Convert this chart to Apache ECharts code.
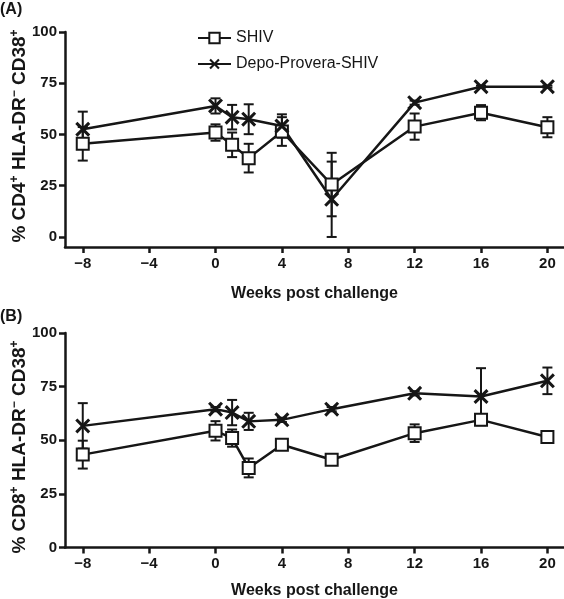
<!DOCTYPE html>
<html><head><meta charset="utf-8">
<script src="https://cdn.jsdelivr.net/npm/echarts@6/dist/echarts.min.js"></script>
<style>html,body{margin:0;padding:0;background:#fff}#c{width:564px;height:599px}</style>
</head><body><div id="c"></div>
<script>
const weeks = [-8, 0, 1, 2, 4, 7, 12, 16, 20];
const xTicks = [-8, -4, 0, 4, 8, 12, 16, 20];
const yTicks = [0, 25, 50, 75, 100];
const seriesNames = ['SHIV', 'Depo-Provera-SHIV'];
const yNameA = '% CD4{sup|+} HLA-DR{sup|\u2212} CD38{sup|+}';
const yNameB = '% CD8{sup|+} HLA-DR{sup|\u2212} CD38{sup|+}';
// Panel A (CD4)
const aShiv   = [45.4, 50.9, 44.9, 38.4, 51.4, 25.5, 53.8, 60.6, 53.5];
const aShivSE = [8.2, 4.0, 6.0, 7.0, 7.0, 15.5, 6.4, 3.7, 4.9];
const aDepo   = [52.5, 63.9, 58.4, 57.4, 54.1, 18.3, 65.5, 73.3, 73.3];
const aDepoSE = [8.6, 3.7, 6.0, 7.3, 5.7, 18.4, 1.0, 0.5, 0.5];
// Panel B (CD8)
const bShiv   = [43.3, 54.4, 51.0, 37.1, 47.9, 40.9, 53.3, 59.5, 51.5];
const bShivSE = [6.5, 4.5, 4.0, 4.4, 2.0, 1.5, 4.1, 2.5, 2.0];
const bDepo   = [56.7, 64.5, 62.9, 58.8, 59.5, 64.5, 71.9, 70.4, 77.7];
const bDepoSE = [10.6, 1.0, 5.9, 4.0, 1.0, 1.0, 1.0, 13.2, 6.2];

const INK = '#161616';
const FONT = '"Liberation Sans", Arial, Helvetica, sans-serif';
const crossPath = 'path://M0,2 L2,0 L7,5 L12,0 L14,2 L9,7 L14,12 L12,14 L7,9 L2,14 L0,12 L5,7 Z';

function pts(vals) { return weeks.map((w, i) => [w, vals[i]]); }
function errData(vals, se) { return weeks.map((w, i) => [w, vals[i], se[i]]); }

function errRender(params, api) {
  const x = api.value(0), v = api.value(1), s = api.value(2);
  const top = api.coord([x, v + s]);
  const bot = api.coord([x, v - s]);
  const cw = 5;
  const st = { stroke: INK, lineWidth: 2 };
  return { type: 'group', children: [
    { type: 'line', shape: { x1: top[0], y1: top[1], x2: bot[0], y2: bot[1] }, style: st },
    { type: 'line', shape: { x1: top[0] - cw, y1: top[1], x2: top[0] + cw, y2: top[1] }, style: st },
    { type: 'line', shape: { x1: bot[0] - cw, y1: bot[1], x2: bot[0] + cw, y2: bot[1] }, style: st }
  ]};
}

function xAxis(idx) {
  return {
    type: 'value', gridIndex: idx, min: -9.07, max: 21,
    name: 'Weeks post challenge', nameLocation: 'middle', nameGap: idx === 0 ? 39 : 35,
    nameMoveOverlap: false,
    nameTextStyle: { fontFamily: FONT, fontWeight: 'bold', fontSize: 16, color: INK },
    axisLine: { show: true, onZero: false, lineStyle: { color: INK, width: 2.5 } },
    axisTick: { show: true, length: 6, inside: false, lineStyle: { color: INK, width: 2.5 }, customValues: xTicks },
    axisLabel: { fontFamily: FONT, fontWeight: 'bold', fontSize: 15, color: INK, margin: 9,
      customValues: xTicks, formatter: v => String(v).replace('-', '\u2212') },
    splitLine: { show: false }
  };
}
function yAxis(idx, minV) {
  return {
    type: 'value', gridIndex: idx, min: minV, max: 100,
    axisLine: { show: true, onZero: false, lineStyle: { color: INK, width: 2.5 } },
    axisTick: { show: true, length: 6, lineStyle: { color: INK, width: 2.5 }, customValues: yTicks },
    axisLabel: { fontFamily: FONT, fontWeight: 'bold', fontSize: 15, color: INK, margin: 8, customValues: yTicks },
    splitLine: { show: false }
  };
}
function yName(text, cy) {
  return {
    type: 'text', x: 20, y: cy, rotation: Math.PI / 2,
    style: {
      text: text, fontFamily: FONT, fontWeight: 'bold', fontSize: 19, fill: INK,
      align: 'center', verticalAlign: 'middle', lineHeight: 22,
      rich: { sup: { fontFamily: FONT, fontWeight: 'bold', fontSize: 12, fill: INK, verticalAlign: 'top', lineHeight: 22 } }
    }
  };
}
function lineSeries(name, data, idx, isSquare) {
  return {
    name: name, type: 'line', xAxisIndex: idx, yAxisIndex: idx, data: data, z: 5,
    symbol: isSquare ? 'rect' : crossPath, symbolSize: isSquare ? 12 : 15,
    color: INK,
    lineStyle: { color: INK, width: 2.5 },
    itemStyle: isSquare ? { color: '#fff', borderColor: INK, borderWidth: 2 } : { color: INK, borderWidth: 0 },
    animation: false
  };
}
function errSeries(name, data, idx) {
  return { name: name + ' error', type: 'custom', xAxisIndex: idx, yAxisIndex: idx, data: data, renderItem: errRender, z: 3, animation: false, silent: true };
}

const chart = echarts.init(document.getElementById('c'), null, { renderer: 'canvas' });
chart.setOption({
  backgroundColor: '#fff',
  animation: false,
  grid: [
    { left: 65, right: 0, top: 32, height: 215, containLabel: false, outerBoundsMode: 'none' },
    { left: 65, right: 0, top: 333, height: 214.5, containLabel: false, outerBoundsMode: 'none' }
  ],
  xAxis: [xAxis(0), xAxis(1)],
  yAxis: [yAxis(0, -5), yAxis(1, 0)],
  legend: {
    data: seriesNames, orient: 'vertical', left: 192, top: 25,
    itemWidth: 33, itemHeight: 13, itemGap: 10,
    textStyle: { fontFamily: FONT, fontSize: 16, color: INK }
  },
  graphic: [
    { type: 'text', left: 0, top: 2, style: { text: '(A)', font: 'bold 16px ' + FONT, fill: INK } },
    { type: 'text', left: 0, top: 309, style: { text: '(B)', font: 'bold 16px ' + FONT, fill: INK } },
    yName(yNameA, 136),
    yName(yNameB, 447)
  ],
  series: [
    errSeries('SHIV', errData(aShiv, aShivSE), 0),
    errSeries('Depo-Provera-SHIV', errData(aDepo, aDepoSE), 0),
    lineSeries(seriesNames[0], pts(aShiv), 0, true),
    lineSeries(seriesNames[1], pts(aDepo), 0, false),
    errSeries('SHIV', errData(bShiv, bShivSE), 1),
    errSeries('Depo-Provera-SHIV', errData(bDepo, bDepoSE), 1),
    lineSeries(seriesNames[0], pts(bShiv), 1, true),
    lineSeries(seriesNames[1], pts(bDepo), 1, false)
  ]
});
</script></body></html>
